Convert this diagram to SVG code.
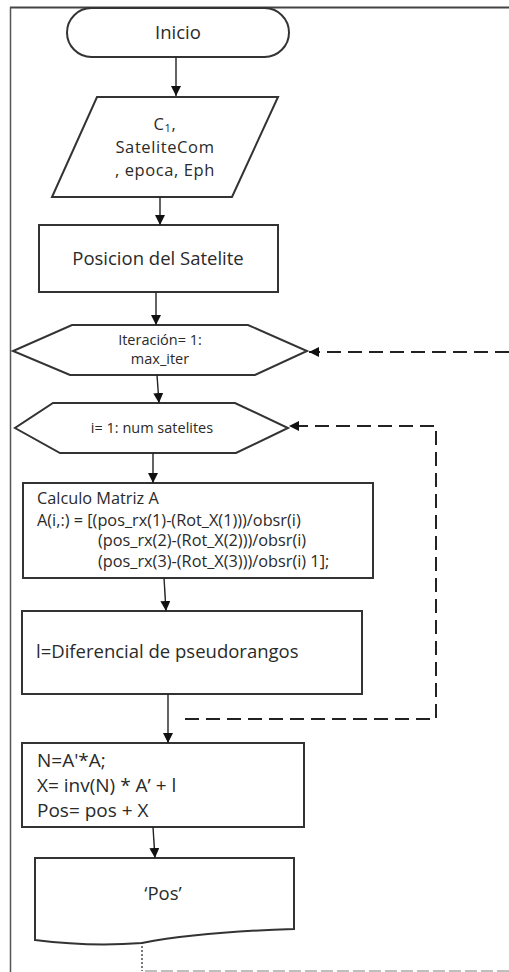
<svg xmlns="http://www.w3.org/2000/svg" width="509" height="972" viewBox="0 0 509 972">
<style>
.s{fill:#fff;stroke:#333;stroke-width:2}
.t{font-family:"Open Sans","Liberation Sans",sans-serif;fill:#2a2a2a;font-size:18.5px}
.m{text-anchor:middle}
.sm{font-size:14.5px}
.md{font-size:16.3px}
.lg{font-size:19px}
.pp{font-size:16.5px;letter-spacing:0.6px}
.c{stroke:#222;stroke-width:1.4;fill:none}
.d{stroke:#222;stroke-width:2;fill:none;stroke-dasharray:14 7}
</style>
<defs>
<marker id="ah" viewBox="0 0 10 10" refX="10" refY="5" markerWidth="10" markerHeight="10" markerUnits="userSpaceOnUse" orient="auto">
<path d="M0,0 L10,5 L0,10 Z" fill="#111"/>
</marker>
</defs>
<rect width="509" height="972" fill="#fff"/>
<g id="frame">
<line x1="10" y1="7.5" x2="509" y2="7.5" stroke="#444" stroke-width="2"/>
<line x1="10.5" y1="7" x2="10.5" y2="972" stroke="#555" stroke-width="1.5"/>
</g>
<g id="start">
<rect class="s" x="67" y="8" width="222" height="49" rx="24.5"/>
<text class="t m" x="178" y="39">Inicio</text>
</g>
<g id="input">
<polygon class="s" points="97,97 278,97 232,197 52,197"/>
<text class="t m pp" x="165" y="130">C<tspan font-size="11" dy="2">1</tspan><tspan dy="-2">,</tspan></text>
<text class="t m pp" x="165" y="153">SateliteCom</text>
<text class="t m pp" x="165" y="176">, epoca, Eph</text>
</g>
<g id="posicion">
<rect class="s" x="39" y="225" width="239" height="67"/>
<text class="t m" x="158" y="265">Posicion del Satelite</text>
</g>
<g id="loop-iter">
<polygon class="s" points="72,325 248,325 307,351 255,375 70,375 13,351"/>
<text class="t m sm" x="160" y="345">Iteración= 1:</text>
<text class="t m sm" x="160" y="364">max_iter</text>
</g>
<g id="loop-sat">
<polygon class="s" points="53,403 235,403 288,428 236,453 60,453 15,428"/>
<text class="t m sm" x="152" y="433">i= 1: num satelites</text>
</g>
<g id="matriz">
<rect class="s" x="23" y="483" width="350" height="95"/>
<text class="t md" x="37" y="504">Calculo Matriz A</text>
<text class="t md" x="37" y="526">A(i,:) = [(pos_rx(1)-(Rot_X(1)))/obsr(i)</text>
<text class="t md" x="98" y="546">(pos_rx(2)-(Rot_X(2)))/obsr(i)</text>
<text class="t md" x="98" y="567">(pos_rx(3)-(Rot_X(3)))/obsr(i) 1];</text>
</g>
<g id="diferencial">
<rect class="s" x="22" y="611" width="340" height="83"/>
<text class="t" x="36" y="658">l=Diferencial de pseudorangos</text>
</g>
<g id="calculo">
<rect class="s" x="22" y="743" width="282" height="84"/>
<text class="t lg" x="37" y="767">N=A'*A;</text>
<text class="t lg" x="37" y="792">X= inv(N) * A’ + l</text>
<text class="t lg" x="37" y="817">Pos= pos + X</text>
</g>
<g id="output">
<path class="s" d="M35,858 H294 V929 Q200,932 142,943 Q90,947 35,940 Z"/>
<text class="t m" x="163" y="900">‘Pos’</text>
</g>
<g id="connectors">
<line class="c" x1="176" y1="57" x2="176" y2="96" marker-end="url(#ah)"/>
<line class="c" x1="160" y1="197" x2="160" y2="225" marker-end="url(#ah)"/>
<line class="c" x1="156" y1="292" x2="156" y2="325" marker-end="url(#ah)"/>
<line class="c" x1="157" y1="375" x2="159" y2="403" marker-end="url(#ah)"/>
<line class="c" x1="153" y1="453" x2="153" y2="483" marker-end="url(#ah)"/>
<line class="c" x1="164" y1="578" x2="166" y2="611" marker-end="url(#ah)"/>
<line class="c" x1="168" y1="694" x2="168" y2="743" marker-end="url(#ah)"/>
<line class="c" x1="153" y1="827" x2="155" y2="858" marker-end="url(#ah)"/>
<line class="d" x1="509" y1="352" x2="309" y2="352" marker-end="url(#ah)"/>
<polyline class="d" points="185,719 436,719 436,426 289,426" marker-end="url(#ah)"/>
<line x1="142" y1="942" x2="142" y2="971" stroke="#333" stroke-width="1.3" stroke-dasharray="2 2"/>
<line x1="145" y1="971" x2="509" y2="971" stroke="#aaa" stroke-width="1.5" stroke-dasharray="12 4"/>
</g>
</svg>
